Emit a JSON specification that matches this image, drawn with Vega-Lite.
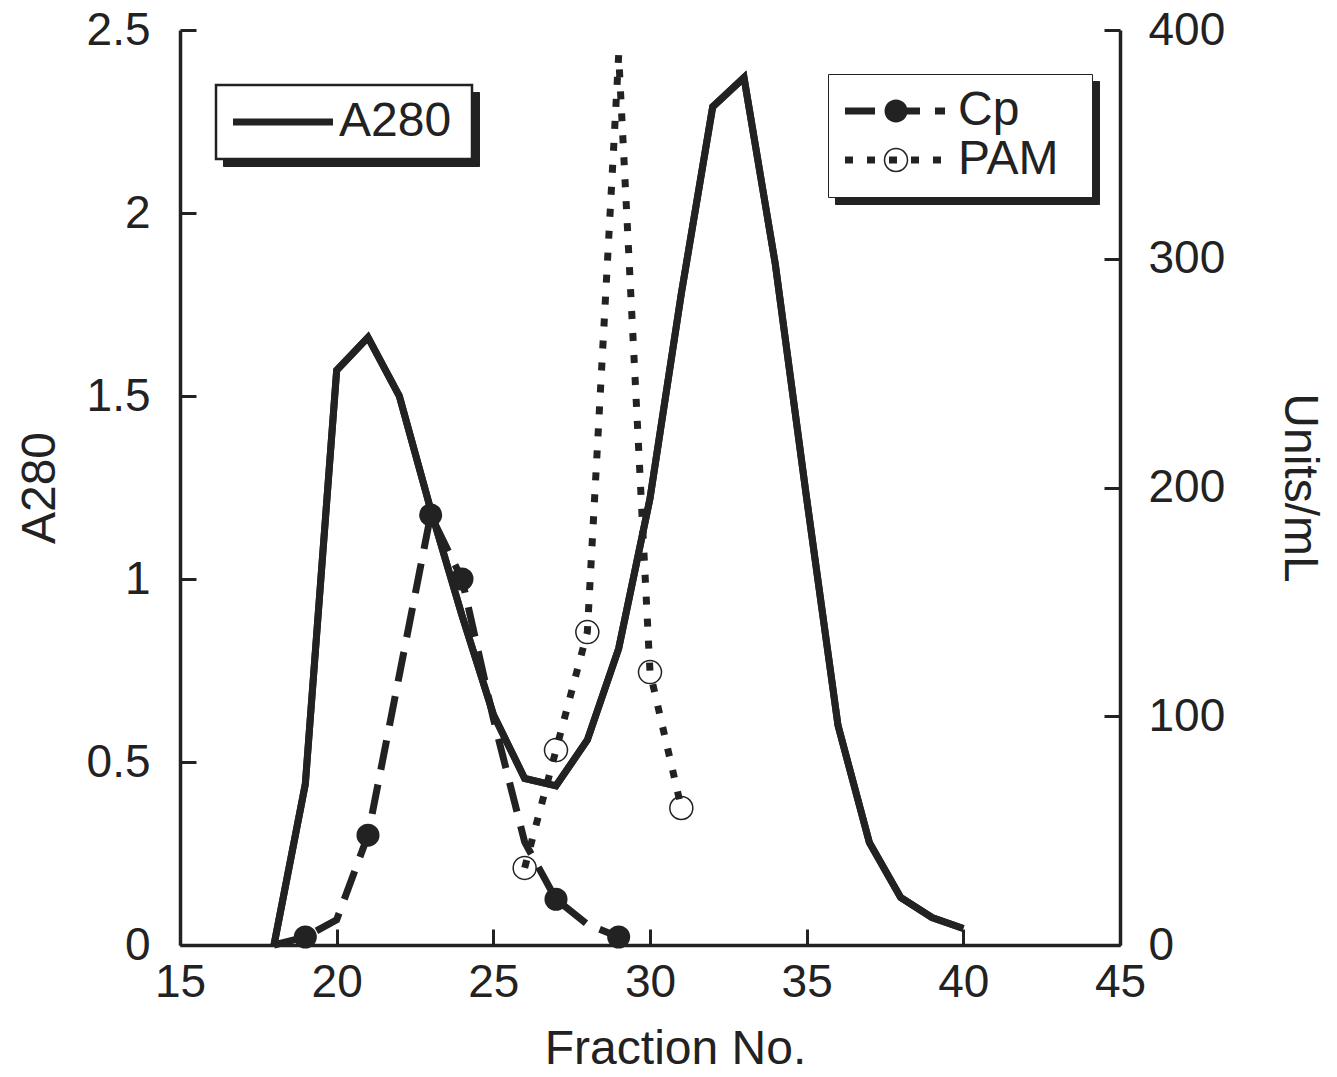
{
  "$schema": "https://vega.github.io/schema/vega-lite/v6.json",
  "width": 940,
  "height": 915,
  "autosize": {"type": "none"},
  "padding": {"left": 180, "top": 30, "right": 217, "bottom": 132},
  "background": "white",
  "datasets": {
    "lines": [
      {"fraction": 18, "series": "A280", "value": 0},
      {"fraction": 19, "series": "A280", "value": 0.44},
      {"fraction": 20, "series": "A280", "value": 1.57},
      {"fraction": 21, "series": "A280", "value": 1.66},
      {"fraction": 22, "series": "A280", "value": 1.5},
      {"fraction": 23, "series": "A280", "value": 1.19},
      {"fraction": 24, "series": "A280", "value": 0.9},
      {"fraction": 25, "series": "A280", "value": 0.63},
      {"fraction": 26, "series": "A280", "value": 0.455},
      {"fraction": 27, "series": "A280", "value": 0.435},
      {"fraction": 28, "series": "A280", "value": 0.56},
      {"fraction": 29, "series": "A280", "value": 0.81},
      {"fraction": 30, "series": "A280", "value": 1.22},
      {"fraction": 31, "series": "A280", "value": 1.78},
      {"fraction": 32, "series": "A280", "value": 2.29},
      {"fraction": 33, "series": "A280", "value": 2.37},
      {"fraction": 34, "series": "A280", "value": 1.86},
      {"fraction": 35, "series": "A280", "value": 1.22},
      {"fraction": 36, "series": "A280", "value": 0.6},
      {"fraction": 37, "series": "A280", "value": 0.28},
      {"fraction": 38, "series": "A280", "value": 0.13},
      {"fraction": 39, "series": "A280", "value": 0.075},
      {"fraction": 40, "series": "A280", "value": 0.045},
      {"fraction": 18, "series": "Cp", "value": 0},
      {"fraction": 19, "series": "Cp", "value": 3.5},
      {"fraction": 20, "series": "Cp", "value": 11},
      {"fraction": 21, "series": "Cp", "value": 48},
      {"fraction": 22, "series": "Cp", "value": 118},
      {"fraction": 23, "series": "Cp", "value": 188},
      {"fraction": 24, "series": "Cp", "value": 160},
      {"fraction": 25, "series": "Cp", "value": 99},
      {"fraction": 26, "series": "Cp", "value": 45},
      {"fraction": 27, "series": "Cp", "value": 20},
      {"fraction": 28, "series": "Cp", "value": 9},
      {"fraction": 29, "series": "Cp", "value": 3.5},
      {"fraction": 29.6, "series": "Cp", "value": 1.5},
      {"fraction": 26, "series": "PAM", "value": 33.7},
      {"fraction": 27, "series": "PAM", "value": 85.2},
      {"fraction": 28, "series": "PAM", "value": 136.8},
      {"fraction": 29, "series": "PAM", "value": 389},
      {"fraction": 30, "series": "PAM", "value": 119.3},
      {"fraction": 31, "series": "PAM", "value": 59.9}
    ],
    "markers": [
      {"fraction": 19, "series": "Cp", "value": 3.5},
      {"fraction": 21, "series": "Cp", "value": 48},
      {"fraction": 23, "series": "Cp", "value": 188},
      {"fraction": 24, "series": "Cp", "value": 160},
      {"fraction": 27, "series": "Cp", "value": 20},
      {"fraction": 29, "series": "Cp", "value": 3.5},
      {"fraction": 26, "series": "PAM", "value": 33.7},
      {"fraction": 27, "series": "PAM", "value": 85.2},
      {"fraction": 28, "series": "PAM", "value": 136.8},
      {"fraction": 30, "series": "PAM", "value": 119.3},
      {"fraction": 31, "series": "PAM", "value": 59.9}
    ]
  },
  "layer": [
    {
      "layer": [
        {
          "data": {"name": "lines"},
          "transform": [{"filter": "datum.series === 'A280'"}],
          "mark": {"type": "line", "color": "#222", "strokeWidth": 7, "strokeJoin": "miter"},
          "encoding": {
            "x": {
              "field": "fraction", "type": "quantitative", "scale": {"domain": [15, 45]},
              "axis": {"values": [15, 20, 25, 30, 35, 40, 45], "title": "Fraction No.", "labelPadding": 31, "titlePadding": 20, "titleX": 495}
            },
            "y": {
              "field": "value", "type": "quantitative", "scale": {"domain": [0, 2.5]},
              "axis": {"orient": "left", "values": [0, 0.5, 1, 1.5, 2, 2.5], "format": "~g", "title": "A280", "labelPadding": 46, "titlePadding": 22}
            },
            "opacity": {
              "datum": "shadow",
              "scale": {"domain": ["shadow"], "range": [1]},
              "legend": {
                "orient": "none", "legendX": 43, "legendY": 62, "title": " ", "titleOrient": "right", "titleFontSize": 20, "titlePadding": 8,
                "symbolType": "M-1,0H4", "symbolSize": 1600, "symbolStrokeWidth": 7,
                "labelFontSize": 48, "labelFont": "Liberation Sans", "labelOffset": 62, "padding": 13,
                "fillColor": "#222", "strokeColor": "#222", "labelExpr": "'A280'",
                "labelOpacity": 0, "symbolOpacity": 0
              }
            }
          }
        },
        {
          "data": {"name": "lines"},
          "transform": [{"filter": "datum.series === 'A280'"}],
          "mark": {"type": "line", "strokeWidth": 7, "strokeJoin": "miter"},
          "encoding": {
            "x": {
              "field": "fraction", "type": "quantitative", "scale": {"domain": [15, 45]},
              "axis": {"values": [15, 20, 25, 30, 35, 40, 45], "title": "Fraction No.", "labelPadding": 31, "titlePadding": 20, "titleX": 495}
            },
            "y": {
              "field": "value", "type": "quantitative", "scale": {"domain": [0, 2.5]},
              "axis": {"orient": "left", "values": [0, 0.5, 1, 1.5, 2, 2.5], "format": "~g", "title": "A280", "labelPadding": 46, "titlePadding": 22}
            },
            "color": {
              "datum": "A280",
              "scale": {"domain": ["A280"], "range": ["#222"]},
              "legend": {
                "orient": "none", "legendX": 36, "legendY": 55, "title": " ", "titleOrient": "right", "titleFontSize": 20, "titlePadding": 8,
                "symbolType": "M-1,0H4", "symbolSize": 1600, "symbolStrokeWidth": 7,
                "labelFontSize": 48, "labelFont": "Liberation Sans", "labelColor": "#222", "labelOffset": 62, "padding": 13,
                "fillColor": "white", "strokeColor": "#222",
                "encode": {"legend": {"update": {"strokeWidth": {"value": 2.5}}}}
              }
            }
          }
        }
      ]
    },
    {
      "layer": [
        {
          "data": {"name": "markers"},
          "mark": {"type": "point", "opacity": 0, "size": 10},
          "encoding": {
            "x": {
              "field": "fraction", "type": "quantitative", "scale": {"domain": [15, 45]},
              "axis": {"values": [15, 20, 25, 30, 35, 40, 45], "title": "Fraction No.", "labelPadding": 31, "titlePadding": 20, "titleX": 495}
            },
            "y": {
              "field": "value", "type": "quantitative", "scale": {"domain": [0, 400]},
              "axis": {"orient": "right", "values": [0, 100, 200, 300, 400], "title": "Units/mL", "labelPadding": 44, "titlePadding": 50}
            },
            "shape": {
              "field": "series",
              "scale": {"domain": ["PAM", "Cp"], "range": ["circle", "circle"]},
              "legend": {
                "orient": "none", "legendX": 655, "legendY": 51, "title": " ", "titleOrient": "right", "titleFontSize": 40, "titlePadding": 21,
                "symbolType": "M-1,0H4", "symbolSize": 1600, "symbolStrokeWidth": 7,
                "labelFontSize": 48, "labelFont": "Liberation Sans", "labelOffset": 69, "padding": 13, "rowPadding": 1,
                "fillColor": "#222", "strokeColor": "#222",
                "labelOpacity": 0, "symbolOpacity": 0
              }
            }
          }
        },
        {
          "data": {"name": "lines"},
          "transform": [{"filter": "datum.series !== 'A280'"}],
          "mark": {"type": "line", "color": "#222", "strokeWidth": 7, "strokeJoin": "miter"},
          "encoding": {
            "x": {
              "field": "fraction", "type": "quantitative", "scale": {"domain": [15, 45]},
              "axis": {"values": [15, 20, 25, 30, 35, 40, 45], "title": "Fraction No.", "labelPadding": 31, "titlePadding": 20, "titleX": 495}
            },
            "y": {
              "field": "value", "type": "quantitative", "scale": {"domain": [0, 400]},
              "axis": {"orient": "right", "values": [0, 100, 200, 300, 400], "title": "Units/mL", "labelPadding": 44, "titlePadding": 50}
            },
            "strokeDash": {
              "field": "series",
              "scale": {"range": [[30, 15], [8, 14]]},
              "legend": {
                "orient": "none", "legendX": 648, "legendY": 44, "title": " ", "titleOrient": "right", "titleFontSize": 40, "titlePadding": 21,
                "symbolType": "M-1,0H4", "symbolSize": 1600, "symbolStrokeWidth": 7,
                "labelFontSize": 48, "labelFont": "Liberation Sans", "labelColor": "#222", "labelOffset": 69, "padding": 13, "rowPadding": 1,
                "fillColor": "white", "strokeColor": "#222",
                "encode": {"legend": {"update": {"strokeWidth": {"value": 2.5}}}}
              }
            }
          }
        },
        {
          "data": {"name": "markers"},
          "mark": {"type": "point", "shape": "circle", "size": 529, "stroke": "#222", "opacity": 1},
          "encoding": {
            "x": {
              "field": "fraction", "type": "quantitative", "scale": {"domain": [15, 45]},
              "axis": {"values": [15, 20, 25, 30, 35, 40, 45], "title": "Fraction No.", "labelPadding": 31, "titlePadding": 20, "titleX": 495}
            },
            "y": {
              "field": "value", "type": "quantitative", "scale": {"domain": [0, 400]},
              "axis": {"orient": "right", "values": [0, 100, 200, 300, 400], "title": "Units/mL", "labelPadding": 44, "titlePadding": 50}
            },
            "fill": {
              "field": "series",
              "scale": {"domain": ["Cp", "PAM"], "range": ["#222", "transparent"]},
              "legend": {
                "orient": "none", "legendX": 648, "legendY": 44, "title": " ", "titleOrient": "right", "titleFontSize": 40, "titlePadding": 21,
                "symbolType": "M2.125,0A0.575,0.575,0,1,1,0.975,0A0.575,0.575,0,1,1,2.125,0Z", "symbolSize": 1600, "symbolStrokeWidth": 7,
                "labelFontSize": 48, "labelFont": "Liberation Sans", "labelOffset": 69, "padding": 13, "rowPadding": 1,
                "labelOpacity": 0,
                "encode": {
                  "symbols": {
                    "update": {
                      "stroke": {"value": "#222"},
                      "strokeWidth": [{"test": "datum.value === 'Cp'", "value": 0}, {"value": 1.5}],
                      "fill": [{"test": "datum.value === 'Cp'", "value": "#222"}, {"value": "transparent"}],
                      "opacity": {"value": 1}
                    }
                  }
                }
              }
            },
            "strokeWidth": {
              "field": "series",
              "scale": {"domain": ["Cp", "PAM"], "range": [0, 1.5]},
              "legend": null
            }
          }
        }
      ]
    }
  ],
  "resolve": {"scale": {"y": "independent"}},
  "config": {
    "view": {"stroke": null},
    "font": "Liberation Sans",
    "axis": {
      "domainColor": "#222", "domainWidth": 3.5,
      "tickColor": "#222", "tickWidth": 3, "tickSize": -16,
      "labelFont": "Liberation Sans", "labelFontSize": 46, "labelColor": "#222",
      "titleFont": "Liberation Sans", "titleFontSize": 48, "titleFontWeight": "normal", "titleColor": "#222",
      "grid": false, "labelOverlap": false, "labelFlush": false
    }
  }
}
